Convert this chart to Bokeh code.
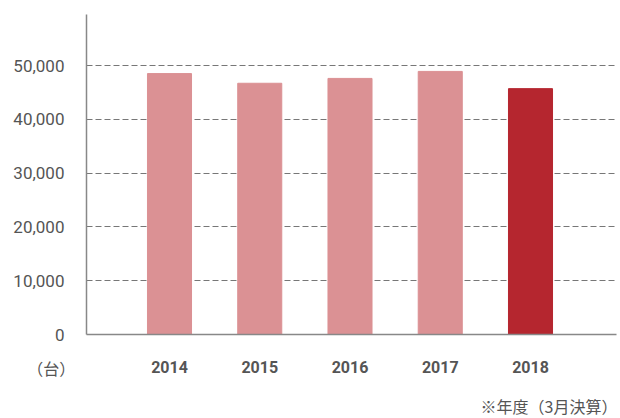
from bokeh.plotting import figure
from bokeh.models import (Range1d, FixedTicker, NumeralTickFormatter, Label, ColumnDataSource,
                          LinearAxis, Grid)
from bokeh.embed import file_html
from bokeh.resources import INLINE

years = ["2014", "2015", "2016", "2017", "2018"]
units = [48500, 46700, 47600, 48900, 45700]
colors = ["#DB9194", "#DB9194", "#DB9194", "#DB9194", "#B5262F"]
y_ticks = [0, 10000, 20000, 30000, 40000, 50000]
unit_label = "（台）"
note = "※年度（3月決算）"

xs = list(range(len(years)))
src = ColumnDataSource(dict(x=xs, top=units, color=colors))

# plot area bounds (data units)
X_LEFT, X_RIGHT = -0.92, 4.953
Y_TOP = 59480

p = figure(width=620, height=418, output_backend="svg", toolbar_location=None,
           x_range=Range1d(-1.8726, 4.9972), y_range=Range1d(-15613, 62082),
           x_axis_type=None, y_axis_type=None,
           min_border_left=0, min_border_right=0, min_border_top=0, min_border_bottom=0)
p.outline_line_color = None
p.background_fill_color = "white"
p.border_fill_color = "white"
p.grid.visible = False

ygrid = Grid(dimension=1, ticker=FixedTicker(ticks=y_ticks[1:]), grid_line_color="#777777",
             grid_line_dash="6 3", grid_line_width=1, cross_bounds=(X_LEFT, X_RIGHT))
p.add_layout(ygrid)

p.vbar(x="x", top="top", width=0.488, color="color", source=src)

yaxis = LinearAxis(fixed_location=X_LEFT, bounds=(0, Y_TOP),
                   ticker=FixedTicker(ticks=y_ticks),
                   formatter=NumeralTickFormatter(format="0,0"))
yaxis.major_tick_line_color = None
yaxis.minor_tick_line_color = None
yaxis.axis_line_color = "#888888"
yaxis.axis_line_width = 1.5
yaxis.major_label_standoff = 16
yaxis.major_label_text_font = "Roboto"
yaxis.major_label_text_font_size = "17px"
yaxis.major_label_text_color = "#555555"
p.add_layout(yaxis, "left")

xaxis = LinearAxis(fixed_location=0, bounds=(X_LEFT, X_RIGHT), ticker=FixedTicker(ticks=xs))
xaxis.major_label_overrides = {i: y for i, y in zip(xs, years)}
xaxis.major_tick_line_color = None
xaxis.minor_tick_line_color = None
xaxis.axis_line_color = "#888888"
xaxis.axis_line_width = 1.5
xaxis.major_label_standoff = 20
xaxis.major_label_text_font = "Roboto"
xaxis.major_label_text_font_style = "bold"
xaxis.major_label_text_font_size = "16px"
xaxis.major_label_text_color = "#555555"
p.add_layout(xaxis, "below")

p.add_layout(Label(x=-1.31, y=-6134, text=unit_label, text_align="center", text_baseline="middle",
                   text_font="Noto Sans CJK JP", text_font_size="16px", text_color="#555555"))
p.add_layout(Label(x=4.964, y=-13200, text=note, text_align="right", text_baseline="middle",
                   text_font="Noto Sans CJK JP", text_font_size="16px", text_color="#555555"))

open("out.html", "w").write(file_html(p, INLINE))
